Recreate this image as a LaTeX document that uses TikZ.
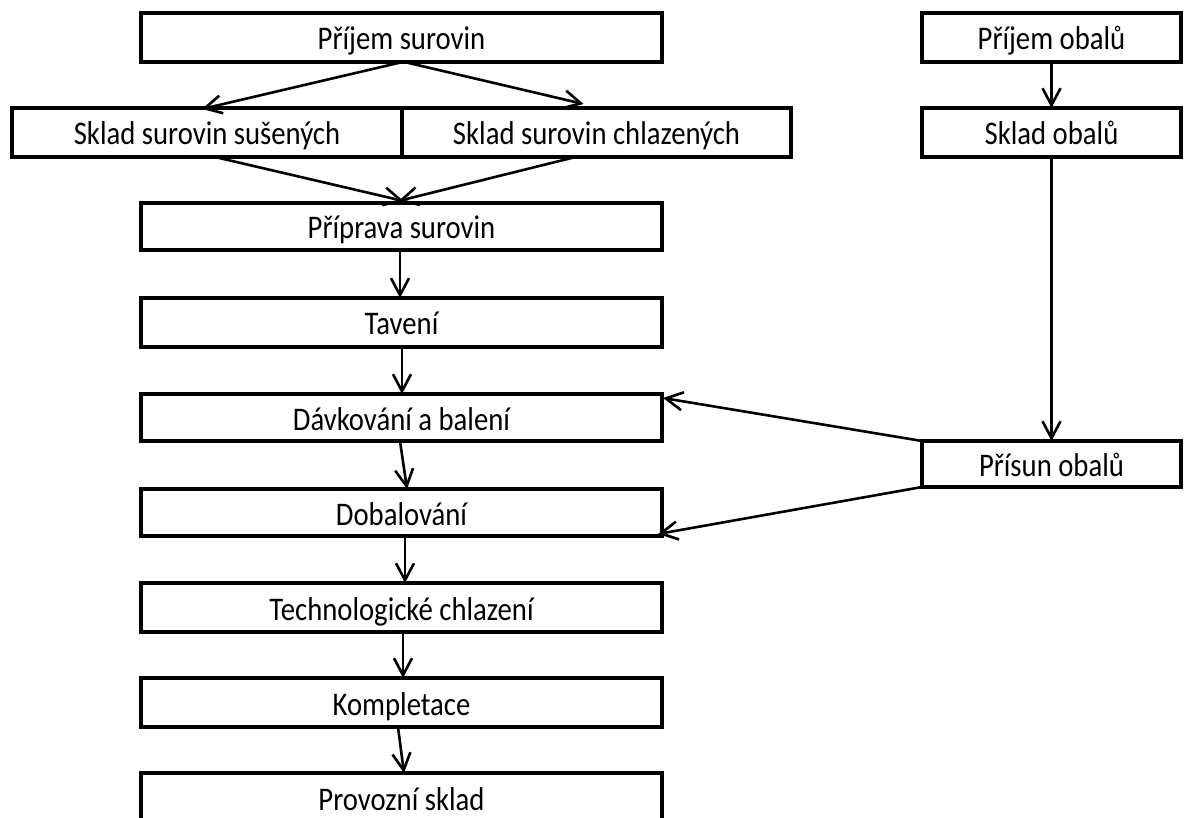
\documentclass[tikz,border=0pt]{standalone}
\usepackage{fontspec}
\setmainfont{Carlito}[FakeStretch=0.87]
\usetikzlibrary{arrows.meta,calc}
\tikzset{
  stepbox/.style={draw, line width=4pt, inner sep=0pt, outer sep=0pt,
    font=\fontsize{33}{38}\selectfont, text height=31pt, text depth=6pt, align=center},
  flow/.style={line width=2.6pt, -{Straight Barb[length=17pt,width=18pt,line width=2.6pt]}}
}
\begin{document}
\begin{tikzpicture}[x=1pt,y=-1pt]
\useasboundingbox (0,0) rectangle (1184,818);
\clip (0,0) rectangle (1184,818);

% main production line
\node[stepbox, minimum width=521pt, minimum height=49pt] (ps) at (401.5,37.5) {Příjem surovin};
\node[stepbox, minimum width=390pt, minimum height=49pt] (ss) at (207,132.5) {Sklad surovin sušených};
\node[stepbox, minimum width=389pt, minimum height=49pt] (sc) at (596.5,132.5) {Sklad surovin chlazených};
\node[stepbox, minimum width=521pt, minimum height=47pt] (pr) at (401.5,226.5) {Příprava surovin};
\node[stepbox, minimum width=521pt, minimum height=49pt] (tv) at (401.5,322.5) {Tavení};
\node[stepbox, minimum width=521pt, minimum height=47pt] (dv) at (401.5,417.5) {Dávkování a balení};
\node[stepbox, minimum width=521pt, minimum height=47pt] (db) at (401.5,512.5) {Dobalování};
\node[stepbox, minimum width=521pt, minimum height=49pt] (tc) at (401.5,607.5) {Technologické chlazení};
\node[stepbox, minimum width=521pt, minimum height=49pt] (ko) at (401.5,702.5) {Kompletace};
\node[stepbox, minimum width=521pt, minimum height=49pt] (pv) at (401.5,797.5) {Provozní sklad};

% packaging line
\node[stepbox, minimum width=259pt, minimum height=49pt] (po) at (1051.5,37.5) {Příjem obalů};
\node[stepbox, minimum width=259pt, minimum height=49pt] (so) at (1051.5,132.5) {Sklad obalů};
\node[stepbox, minimum width=259pt, minimum height=46pt] (pu) at (1051.5,464) {Přísun obalů};

% connectors
\draw[flow] ([xshift=1pt]ps.south) -- ([xshift=-5pt,yshift=-1pt]ss.north);
\draw[flow] ([xshift=3pt]ps.south) -- ([xshift=-13pt,yshift=4pt]sc.north);
\draw[flow] ([xshift=8pt]ss.south) -- ([xshift=2pt,yshift=2pt]pr.north);
\draw[flow] ([xshift=-21pt]sc.south) -- ([xshift=-3pt,yshift=2pt]pr.north);
\draw[flow] ([xshift=-1.5pt]pr.south) -- ([xshift=-1.5pt]tv.north);
\draw[flow] ([xshift=0.5pt]tv.south) -- ([xshift=0.5pt]dv.north);
\draw[flow] ([xshift=-1.5pt]dv.south) -- ([xshift=5.5pt]db.north);
\draw[flow] ([xshift=3.5pt]db.south) -- ([xshift=3.5pt]tc.north);
\draw[flow] ([xshift=1.5pt]tc.south) -- ([xshift=1.5pt]ko.north);
\draw[flow] ([xshift=-3.5pt]ko.south) -- ([xshift=2.5pt]pv.north);
\draw[flow] (po.south) -- (so.north);
\draw[flow] (so.south) -- (pu.north);
\draw[flow] (pu.north west) -- ([xshift=1pt,yshift=-4pt]dv.north east);
\draw[flow] (pu.south west) -- ([xshift=-4pt,yshift=2pt]db.south east);
\end{tikzpicture}
\end{document}
